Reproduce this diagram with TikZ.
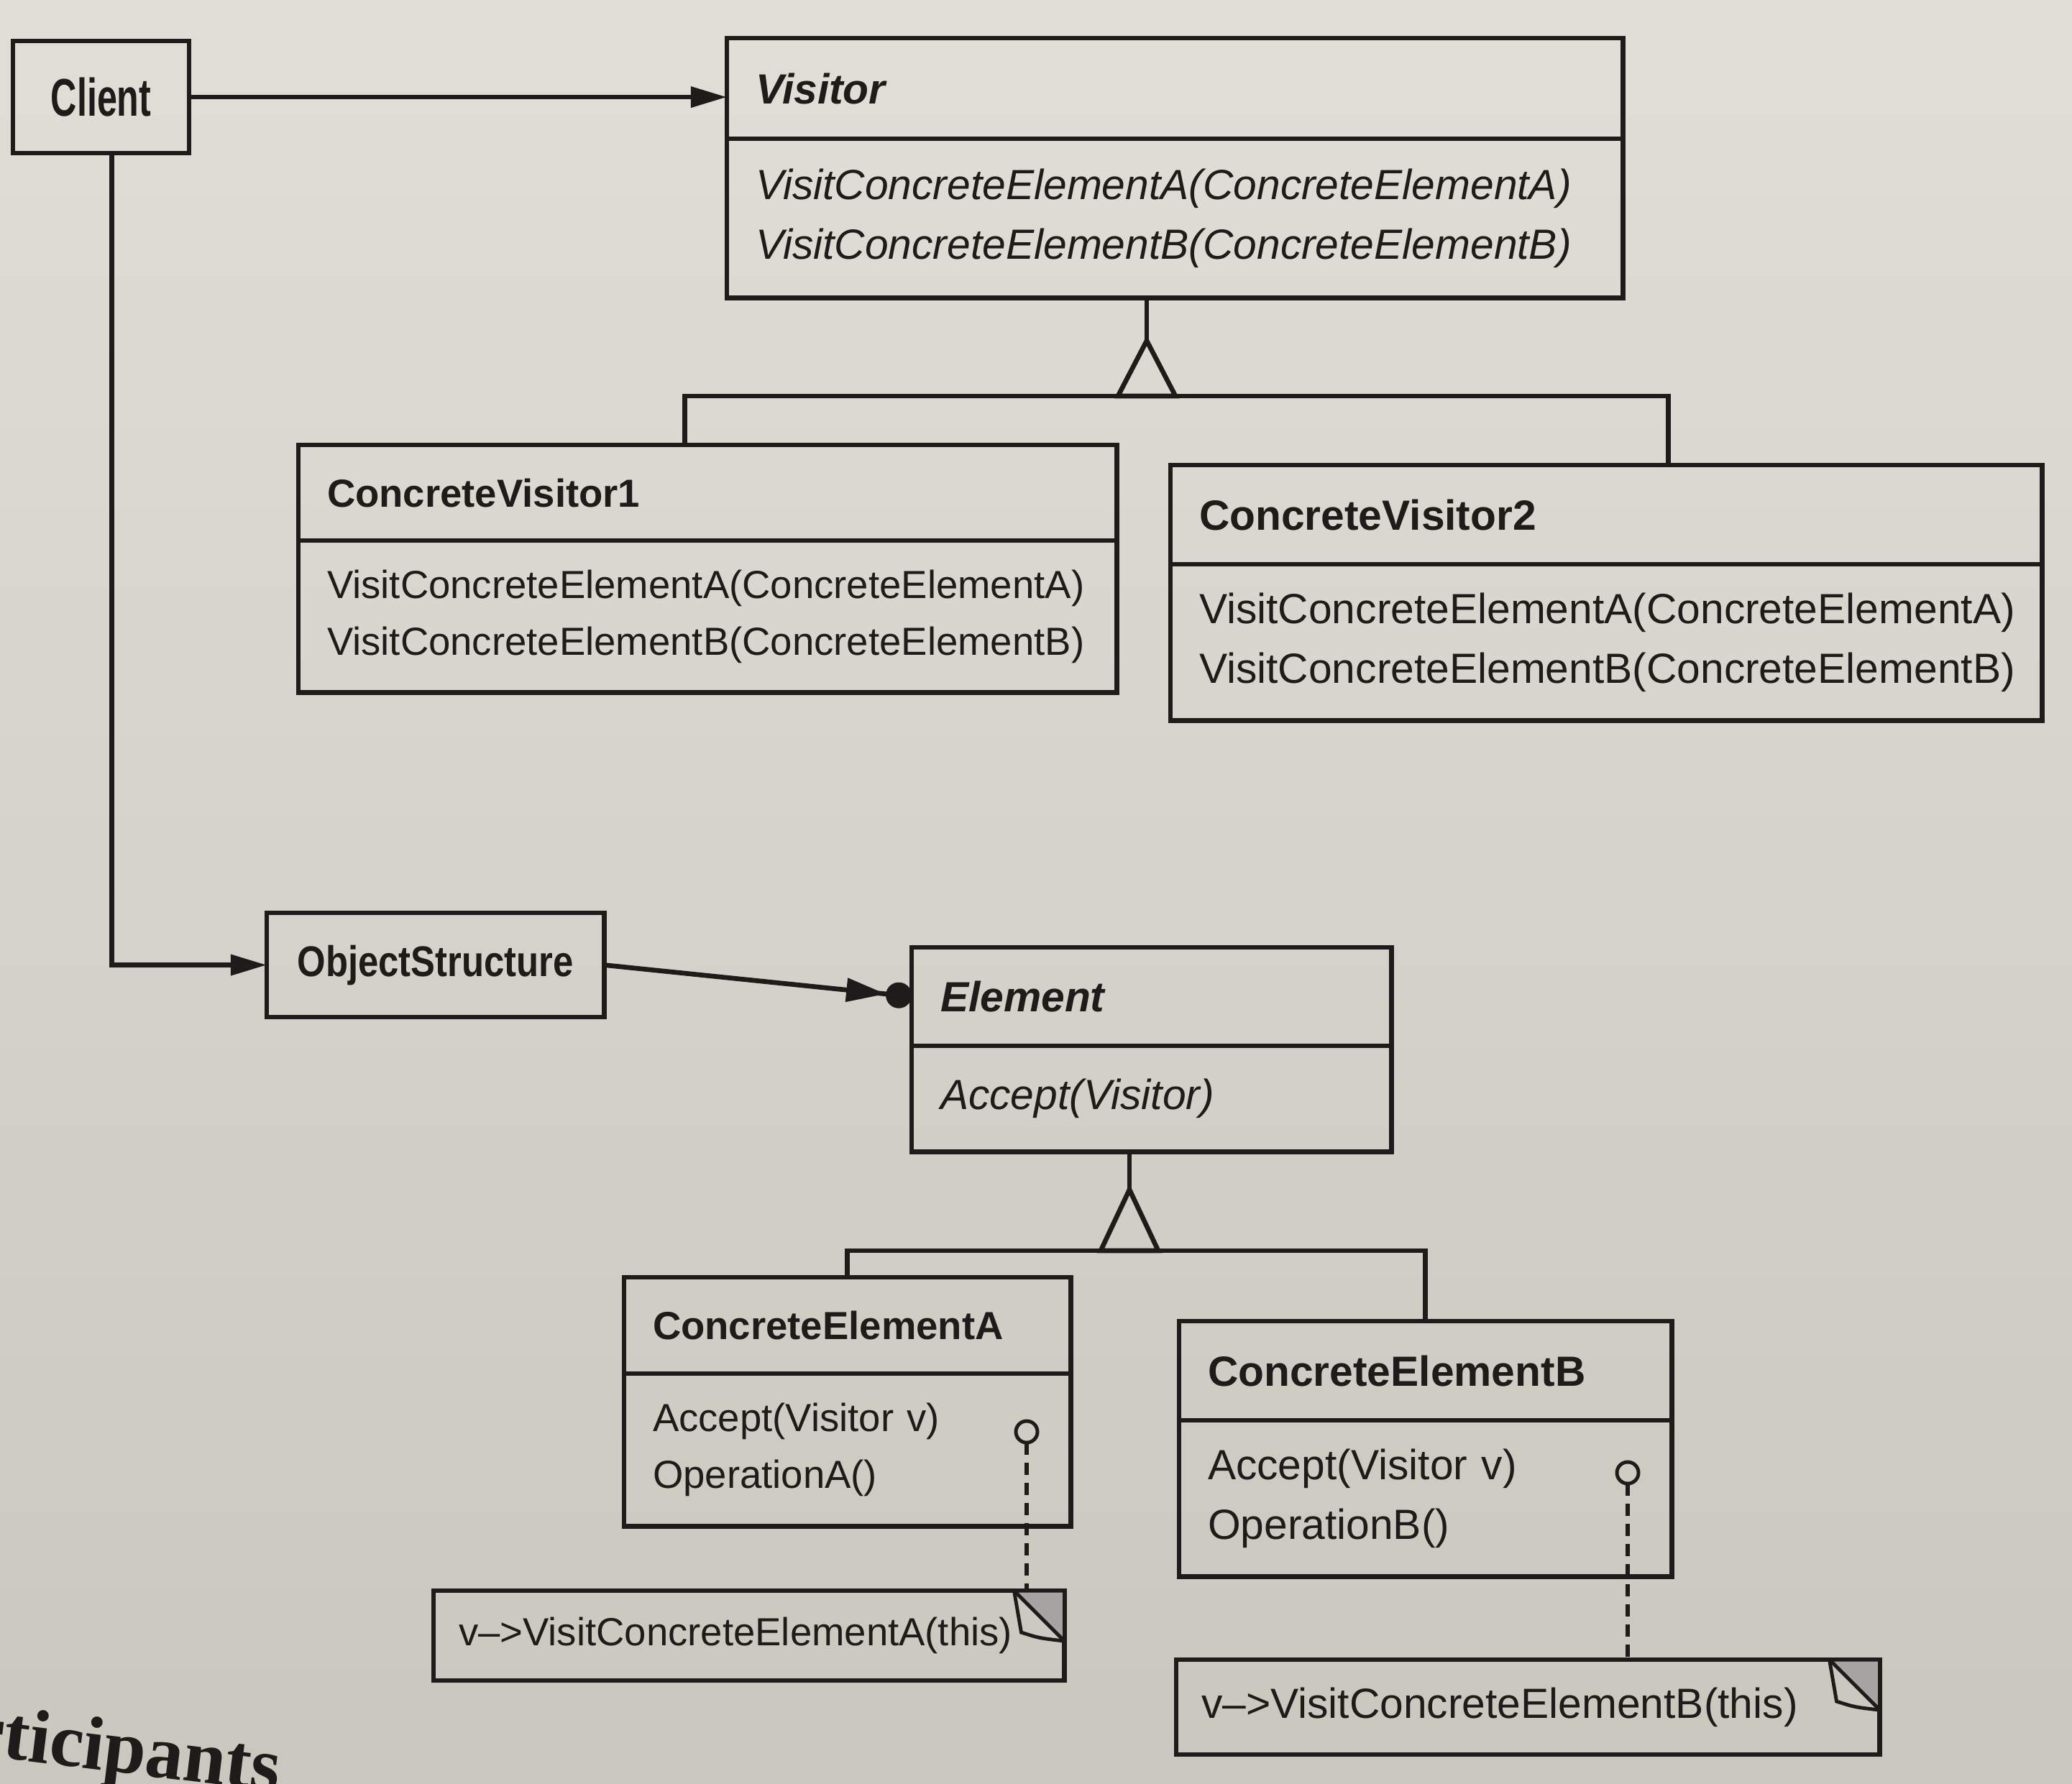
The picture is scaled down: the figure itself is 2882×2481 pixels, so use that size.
\documentclass[tikz,border=0pt]{standalone}
\usepackage{fontspec}
\usepackage{graphicx}
\setmainfont{Liberation Sans}
\newfontfamily\headfont{Liberation Serif}
\usetikzlibrary{positioning,arrows.meta}

\definecolor{ink}{RGB}{30,28,26}
\definecolor{paperTop}{RGB}{224,222,215}
\definecolor{paperBot}{RGB}{202,199,191}

\newcommand\lefttxt{\fontsize{15.5}{22.5}\selectfont}
\newcommand\righttxt{\fontsize{16.7}{23.5}\selectfont}

% folded corner of a note
\newcommand\dogear[1]{%
  \filldraw[fill=ink!40, draw=ink, line width=1.4pt]
    ([xshift=-0.7cm]#1.north east) -- (#1.north east) -- ([yshift=-0.7cm]#1.north east) -- cycle;
  \draw[draw=ink, line width=1.4pt]
    ([xshift=-0.7cm]#1.north east) -- ([xshift=-0.6cm,yshift=-0.58cm]#1.north east)
    .. controls ([xshift=-0.35cm,yshift=-0.66cm]#1.north east) .. ([yshift=-0.7cm]#1.north east);
}

\tikzset{
  wire/.style={draw=ink, line width=1.9pt},
  assoc/.style={wire, -{Triangle[length=0.5cm,width=0.28cm]}},
  classbox/.style={draw=ink, line width=1.9pt, text=ink, inner xsep=0.4cm, inner ysep=0pt,
    outer sep=0pt, align=left, execute at begin node={\hyphenpenalty=10000}},
  notebox/.style={classbox, inner xsep=0.35cm},
  lollipop/.style={circle, draw=ink, line width=1.4pt, minimum size=0.3cm, inner sep=0pt, outer sep=0pt},
  tether/.style={draw=ink, line width=1.8pt, dash pattern=on 0.17cm off 0.11cm}
}

\begin{document}
\begin{tikzpicture}[x=0.01cm, y=-0.01cm]
\useasboundingbox (0,0) rectangle (2882,2481);
\shade[top color=paperTop, bottom color=paperBot] (0,0) rectangle (2882,2481);

\node[classbox, align=center, inner xsep=0pt, minimum width=2.45cm, minimum height=1.56cm,
  anchor=north west, font=\fontsize{21}{25}\selectfont\bfseries] (client) at (18,57)
  {\scalebox{0.68}[1]{Client}};

\node[classbox, anchor=north west, text width=11.66cm, minimum height=1.40cm,
  font=\righttxt\bfseries\itshape] (visitor) at (1011,53) {Visitor};
\node[classbox, below=0pt of visitor, text width=11.66cm, minimum height=2.21cm,
  font=\righttxt\itshape] (visitorOps)
  {VisitConcreteElementA(ConcreteElementA)\\VisitConcreteElementB(ConcreteElementB)};

\node[classbox, anchor=north west, text width=10.58cm, minimum height=1.33cm,
  font=\lefttxt\bfseries] (cv1) at (415,619) {ConcreteVisitor1};
\node[classbox, below=0pt of cv1, text width=10.58cm, minimum height=2.11cm,
  font=\lefttxt] (cv1Ops)
  {VisitConcreteElementA(ConcreteElementA)\\VisitConcreteElementB(ConcreteElementB)};

\node[classbox, anchor=north west, text width=11.32cm, minimum height=1.38cm,
  font=\righttxt\bfseries] (cv2) at (1628,647) {ConcreteVisitor2};
\node[classbox, below=0pt of cv2, text width=11.32cm, minimum height=2.17cm,
  font=\righttxt] (cv2Ops)
  {VisitConcreteElementA(ConcreteElementA)\\VisitConcreteElementB(ConcreteElementB)};

\node[classbox, align=center, inner xsep=0pt, minimum width=4.69cm, minimum height=1.45cm,
  anchor=north west, font=\fontsize{17}{20}\selectfont\bfseries] (objStruct) at (371,1270)
  {\scalebox{0.85}[1]{ObjectStructure}};

\node[classbox, anchor=north west, text width=5.87cm, minimum height=1.37cm,
  font=\righttxt\bfseries\itshape] (element) at (1268,1318) {Element};
\node[classbox, below=0pt of element, text width=5.87cm, minimum height=1.47cm,
  font=\righttxt\itshape] (elementOps) {Accept(Visitor)};

\node[classbox, anchor=north west, text width=5.41cm, minimum height=1.34cm,
  font=\lefttxt\bfseries] (cea) at (868,1777) {ConcreteElementA};
\node[classbox, below=0pt of cea, text width=5.41cm, minimum height=2.12cm,
  font=\lefttxt] (ceaOps) {Accept(Visitor v)\\OperationA()};

\node[classbox, anchor=north west, text width=6.05cm, minimum height=1.38cm,
  font=\righttxt\bfseries] (ceb) at (1640,1838) {ConcreteElementB};
\node[classbox, below=0pt of ceb, text width=6.05cm, minimum height=2.17cm,
  font=\righttxt] (cebOps) {Accept(Visitor v)\\OperationB()};

\node[notebox, anchor=north west, text width=8.07cm, minimum height=1.25cm,
  font=\lefttxt] (noteA) at (603,2213) {v--{}>VisitConcreteElementA(this)};
\node[notebox, anchor=north west, text width=9.08cm, minimum height=1.32cm,
  font=\righttxt] (noteB) at (1636,2309) {v--{}>VisitConcreteElementB(this)};
\dogear{noteA}
\dogear{noteB}

\node[lollipop] (ceaPin) at (1428,1992) {};
\node[lollipop] (cebPin) at (2264,2049) {};
\draw[tether] (ceaPin) -- (ceaPin |- noteA.north);
\draw[tether] (cebPin) -- (cebPin |- noteB.north);

\draw[assoc] (client.east) -- (client.east -| visitor.west);
\draw[assoc] ([xshift=0.15cm]client.south) |- (objStruct.west);
\draw[wire, -{Triangle[length=0.55cm,width=0.32cm] Circle[length=0.36cm]}]
  (objStruct.east) -- (element.west);

\coordinate (vApex) at (1595,474);
\coordinate (vBase) at (1595,551);
\draw[wire] (visitorOps.south -| vApex) -- (vApex);
\draw[wire, line join=miter] (vApex) -- ([xshift=-0.4cm]vBase) -- ([xshift=0.4cm]vBase) -- cycle;
\draw[wire] ([xshift=-0.32cm]cv1.north) |- (vBase) -| ([xshift=0.86cm]cv2.north);

\coordinate (eApex) at (1571,1655);
\coordinate (eBase) at (1571,1740);
\draw[wire] (elementOps.south -| eApex) -- (eApex);
\draw[wire, line join=miter] (eApex) -- ([xshift=-0.4cm]eBase) -- ([xshift=0.4cm]eBase) -- cycle;
\draw[wire] (cea.north) |- (eBase) -| (ceb.north);

\node[font={\headfont\fontsize{30}{32}\selectfont\bfseries}, text=ink, anchor=base west,
  rotate=-7, inner sep=0pt] (heading) at (-45,2440) {rticipants};
\end{tikzpicture}
\end{document}
